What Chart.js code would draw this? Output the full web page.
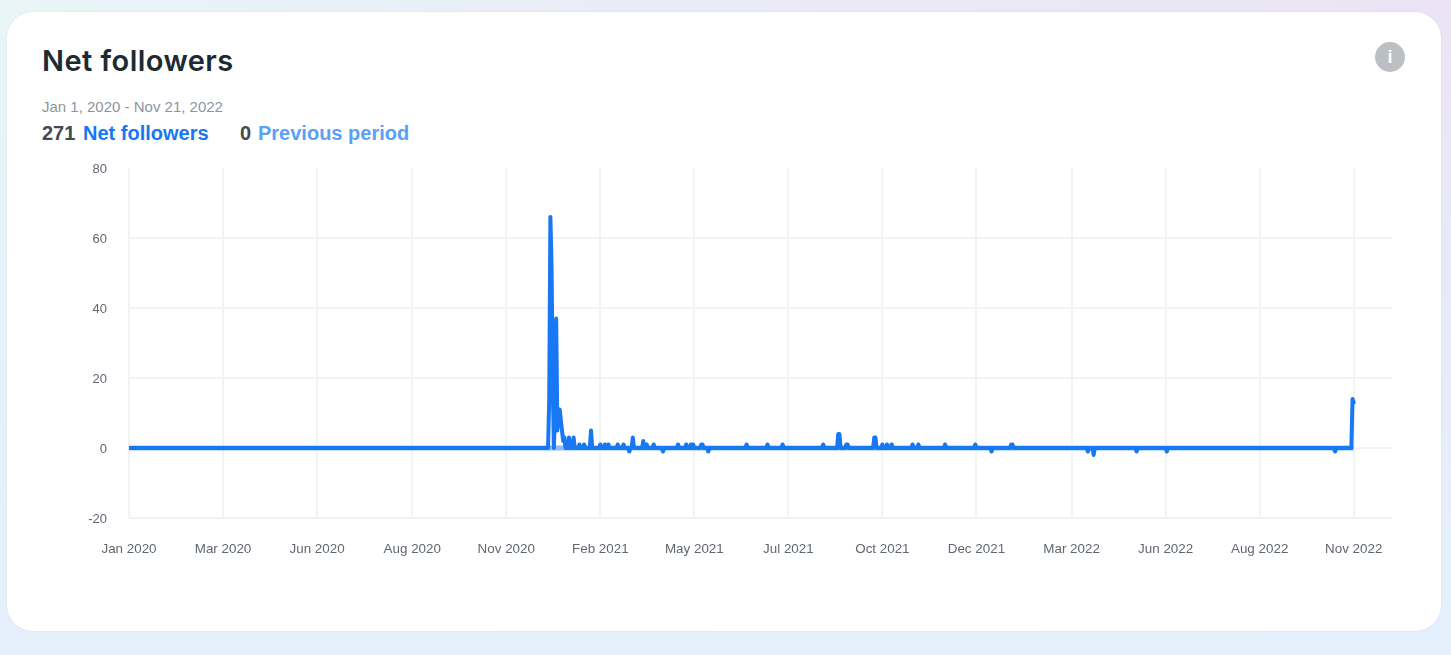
<!DOCTYPE html>
<html>
<head>
<meta charset="utf-8">
<title>Net followers</title>
<script src="https://cdn.jsdelivr.net/npm/chart.js@4"></script>
<style>
  html, body { margin: 0; height: 100%; overflow: hidden; }
  body {
    position: relative;
    width: 1451px;
    height: 655px;
    background: linear-gradient(170deg, #e9f5f6 0%, #e6f0fb 45%, #e4effd 100%);
    font-family: "Liberation Sans", Arial, sans-serif;
  }
  .tint {
    position: absolute; inset: 0;
    background: linear-gradient(200deg, #ebe3f5 0%, rgba(235,227,245,0) 45%);
  }
  .card {
    position: absolute; left: 7px; top: 12px; width: 1434px; height: 619px;
    background: #fff; border-radius: 26px;
    box-shadow: 0 0 2px rgba(0,0,0,0.08);
  }
  h1 {
    position: absolute; left: 42px; top: 43px; margin: 0;
    font: 600 29px/36px Inter, sans-serif; letter-spacing: 0.45px; color: #1c2b33;
  }
  .range { position: absolute; left: 42px; top: 98px; font-size: 15px; line-height: 18px; color: #8d949e; }
  .stat { position: absolute; top: 121px; font-size: 20px; line-height: 24px; font-weight: bold; white-space: nowrap; }
  .num { color: #444950; }
  .info {
    position: absolute; left: 1375px; top: 42px; width: 30px; height: 30px; border-radius: 50%;
    background: #bcc0c4; color: #fff; text-align: center;
    font: bold 18px/30px "Liberation Sans", sans-serif;
  }
  canvas { position: absolute; left: 0; top: 0; }
</style>
</head>
<body>
<div class="tint"></div>
<div class="card"></div>
<h1>Net followers</h1>
<div class="info">i</div>
<div class="range">Jan 1, 2020 - Nov 21, 2022</div>
<div class="stat num" style="left:42px">271</div>
<div class="stat" style="left:83px;color:#1877f2">Net followers</div>
<div class="stat num" style="left:240px">0</div>
<div class="stat" style="left:258px;color:#5aa0f7">Previous period</div>
<canvas id="chartFollowers" width="1451" height="655"></canvas>

<script>
  // day number counted from Jan 1 2020, only the days that are not zero
  const activeDays = [
    362, 363, 364, 365, 367, 368, 369, 370, 371, 372, 373, 374, 375, 379, 383, 388, 392, 398,
    406, 410, 413, 421, 426, 431, 434, 443, 446, 452, 460, 473, 480, 484, 486, 493, 494, 499,
    532, 550, 563, 598, 611, 612, 618, 619, 642, 643, 649, 653, 657, 675, 680, 703, 729, 743, 760, 761,
    826, 831, 868, 894, 1039, 1054, 1055
  ];
  const activeValues = [
    14, 66, 52, 20, 10, 37, 5, 11, 11, 8, 5, 2, 3, 3, 3, 1, 1, 5,
    1, 1, 1, 1, 1, -1, 3, 2, 1, 1, -1, 1, 1, 1, 1, 1, 1, -1,
    1, 1, 1, 1, 4, 4, 1, 1, 3, 3, 1, 1, 1, 1, 1, 1, 1, -1, 1, 1,
    -1, -2, -1, -1, -1, 14, 13
  ];
  const lastDay = 1055;
  const previousDays = [0, 1055];
  const previousValues = [0, 0];

  const tickDays = [0, 81, 162, 244, 325, 406, 487, 568, 649, 730, 812, 893, 974, 1055];
  const tickLabels = [
    'Jan 2020', 'Mar 2020', 'Jun 2020', 'Aug 2020', 'Nov 2020', 'Feb 2021', 'May 2021',
    'Jul 2021', 'Oct 2021', 'Dec 2021', 'Mar 2022', 'Jun 2022', 'Aug 2022', 'Nov 2022'
  ];
  const yTicks = [-20, 0, 20, 40, 60, 80];

  const gridColor = '#f2f3f5';
  const tickColor = '#606770';

  // daily table: a day missing from activeDays had no change
  const dailyPoints = [];
  for (let day = 0; day <= lastDay; day++) {
    const i = activeDays.indexOf(day);
    dailyPoints.push({ x: day, y: i === -1 ? 0 : activeValues[i] });
  }

  new Chart(document.getElementById('chartFollowers'), {
    type: 'line',
    data: {
      datasets: [
        {
          label: 'Net followers',
          data: dailyPoints,
          borderColor: '#1877f2',
          borderWidth: 4,
          borderJoinStyle: 'round',
          borderCapStyle: 'round',
          pointRadius: 0,
          order: 0
        },
        {
          label: 'Previous period',
          data: previousDays.map((d, i) => ({ x: d, y: previousValues[i] })),
          borderColor: '#8fbdf8',
          borderWidth: 5,
          pointRadius: 0,
          order: 1
        }
      ]
    },
    options: {
      responsive: false,
      animation: false,
      parsing: false,
      layout: { padding: { left: 80, top: 168, right: 59, bottom: 0 } },
      plugins: { legend: { display: false }, tooltip: { enabled: false } },
      scales: {
        x: {
          type: 'linear',
          min: 0,
          max: 1088,
          afterBuildTicks: scale => { scale.ticks = tickDays.map(v => ({ value: v })); },
          afterFit: scale => { scale.height = 137; },
          grid: { color: gridColor, lineWidth: 2, drawTicks: false },
          border: { display: false },
          ticks: {
            autoSkip: false,
            maxRotation: 0,
            padding: 23,
            color: tickColor,
            font: { family: '"Liberation Sans", Arial, sans-serif', size: 13.4 },
            callback: value => tickLabels[tickDays.indexOf(value)]
          }
        },
        y: {
          min: -20,
          max: 80,
          afterBuildTicks: scale => { scale.ticks = yTicks.map(v => ({ value: v })); },
          afterFit: scale => { scale.width = 49; },
          grid: {
            color: ctx => (ctx.tick && ctx.tick.value === 80 ? 'transparent' : gridColor),
            lineWidth: 2,
            drawTicks: false
          },
          border: { display: false },
          ticks: {
            padding: 22,
            labelOffset: 1,
            color: tickColor,
            font: { family: '"Liberation Sans", Arial, sans-serif', size: 13 }
          }
        }
      }
    }
  });
</script>
</body>
</html>
